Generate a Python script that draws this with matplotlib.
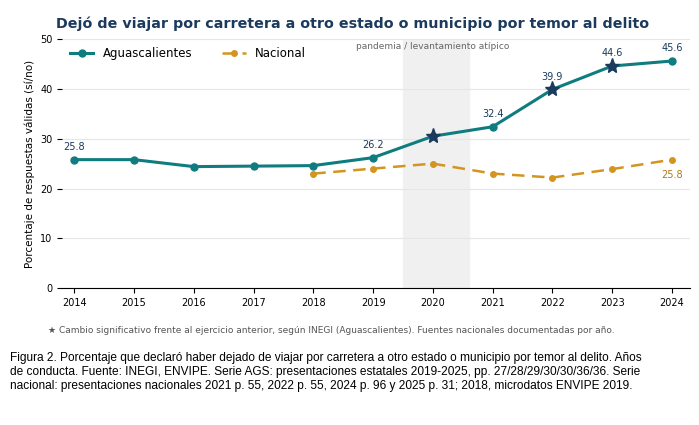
import matplotlib.pyplot as plt

years = list(range(2014, 2025))
ags = [25.8, 25.8, 24.4, 24.5, 24.6, 26.2, 30.5, 32.4, 39.9, 44.6, 45.6]
nac_years = list(range(2018, 2025))
nac = [23.0, 24.0, 25.0, 23.0, 22.2, 23.9, 25.8]
star_years = [2020, 2022, 2023]
ags_labels = {2014: 25.8, 2019: 26.2, 2021: 32.4, 2022: 39.9, 2023: 44.6, 2024: 45.6}

teal = '#0f7c80'
gold = '#d4951f'
navy = '#1b3a5c'

fig = plt.figure(figsize=(6.99, 4.25), dpi=100)
ax = fig.add_axes([0.089, 0.322, 0.898, 0.586])

ax.axvspan(2019.5, 2020.6, color='#f0f0f0', zorder=0)
ax.text(2020.0, 48.6, 'pandemia / levantamiento atípico', ha='center', va='center',
        fontsize=6.5, color='#666666')
ax.plot(years, ags, color=teal, lw=2.2, marker='o', ms=5, label='Aguascalientes', zorder=3)
ax.plot(nac_years, nac, color=gold, lw=1.8, ls='--', dashes=(5, 3), marker='o', ms=4,
        label='Nacional', zorder=2)
ax.plot(star_years, [ags[years.index(y)] for y in star_years], ls='none', marker='*',
        ms=11, color=navy, zorder=4)
for y, v in ags_labels.items():
    ax.annotate(f'{v:.1f}', (y, v), xytext=(0, 7), textcoords='offset points',
                ha='center', fontsize=7, color=navy)
ax.annotate(f'{nac[-1]:.1f}', (2024, nac[-1]), xytext=(0, -13), textcoords='offset points',
            ha='center', fontsize=7, color='#b07a10')

ax.set_xlim(2013.8, 2024.3)
ax.set_ylim(0, 50)
ax.set_xticks(years)
ax.set_yticks(range(0, 51, 10))
ax.tick_params(labelsize=7)
ax.grid(axis='y', color='#e6e6e6', lw=0.8)
ax.set_axisbelow(True)
for s in ['top', 'right', 'left']:
    ax.spines[s].set_visible(False)
ax.set_ylabel('Porcentaje de respuestas válidas (sí/no)', fontsize=7.5)
ax.legend(loc='upper left', frameon=False, fontsize=8.5, ncol=2, columnspacing=2.5,
          bbox_to_anchor=(-0.005, 1.01))

fig.text(0.08, 0.935, 'Dejó de viajar por carretera a otro estado o municipio por temor al delito',
         fontsize=10.3, fontweight='bold', color=navy)
fig.text(0.068, 0.216, '★ Cambio significativo frente al ejercicio anterior, según INEGI (Aguascalientes). '
         'Fuentes nacionales documentadas por año.', fontsize=6.5, color='#555555')
fig.text(0.014, 0.172, 'Figura 2. Porcentaje que declaró haber dejado de viajar por carretera a otro estado o municipio por temor al delito. Años\n'
         'de conducta. Fuente: INEGI, ENVIPE. Serie AGS: presentaciones estatales 2019-2025, pp. 27/28/29/30/30/36/36. Serie\n'
         'nacional: presentaciones nacionales 2021 p. 55, 2022 p. 55, 2024 p. 96 y 2025 p. 31; 2018, microdatos ENVIPE 2019.',
         fontsize=8.6, family='Liberation Sans', linespacing=1.25, va='top')

fig.savefig('out.png', dpi=100)
